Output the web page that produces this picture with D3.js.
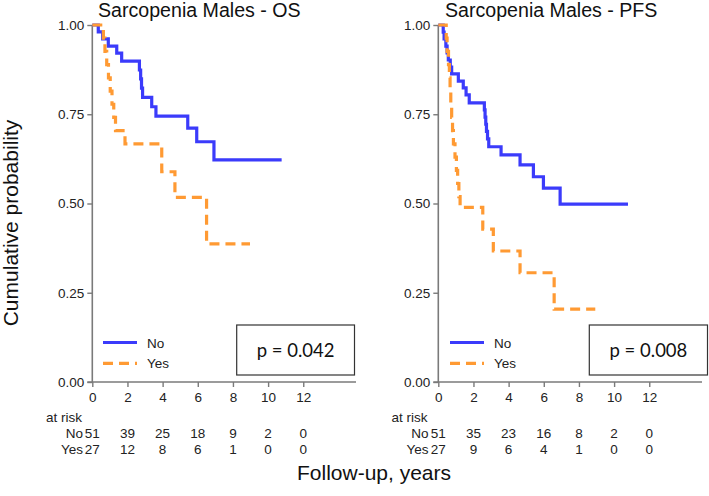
<!DOCTYPE html>
<html>
<head>
<meta charset="utf-8">
<script src="https://cdn.jsdelivr.net/npm/d3@7"></script>
<style>
  html, body { margin: 0; padding: 0; background: #fff; }
  svg { display: block; }
</style>
</head>
<body>
<svg id="chart" width="709" height="496"></svg>
<script>
// ---------------- DATA ----------------
const panelTitles = ["Sarcopenia Males - OS", "Sarcopenia Males - PFS"];
const groupNames = ["No", "Yes"];
const pValues = ["p = 0.042", "p = 0.008"];
const xTicks = [0, 2, 4, 6, 8, 10, 12];
const yTicks = [0, 0.25, 0.5, 0.75, 1];
const riskTimes = [0, 2, 4, 6, 8, 10, 12];

// OS - No
const osNoTime = [0.34, 0.59, 0.91, 1.39, 1.67, 2.68, 2.75, 2.80, 2.86, 3.38, 3.62, 5.43, 5.94, 6.92];
const osNoSurv = [0.981, 0.961, 0.941, 0.921, 0.899, 0.874, 0.849, 0.823, 0.797, 0.771, 0.745, 0.711, 0.673, 0.622];
const osNoEnd = 10.77;
// OS - Yes
const osYesTime = [0.63, 0.72, 0.82, 0.92, 1.02, 1.12, 1.22, 1.32, 1.86, 3.95, 4.70, 6.50];
const osYesSurv = [0.963, 0.926, 0.889, 0.852, 0.815, 0.778, 0.741, 0.704, 0.667, 0.589, 0.517, 0.387];
const osYesEnd = 8.97;
// PFS - No
const pfsNoTime = [0.28, 0.33, 0.43, 0.50, 0.57, 0.68, 0.76, 1.14, 1.42, 1.58, 1.76, 2.62, 2.66, 2.70, 2.74, 2.80, 2.87, 3.57, 4.65, 5.41, 5.98, 6.93];
const pfsNoSurv = [0.980, 0.961, 0.941, 0.922, 0.902, 0.882, 0.863, 0.843, 0.824, 0.804, 0.782, 0.762, 0.742, 0.722, 0.702, 0.681, 0.659, 0.636, 0.608, 0.575, 0.543, 0.498];
const pfsNoEnd = 10.79;
// PFS - Yes
const pfsYesTime = [0.45, 0.50, 0.58, 0.63, 0.67, 0.71, 0.76, 0.81, 0.86, 0.95, 1.03, 1.10, 1.17, 1.24, 2.53, 3.13, 4.65, 6.59];
const pfsYesSurv = [0.963, 0.926, 0.889, 0.852, 0.815, 0.778, 0.741, 0.704, 0.667, 0.630, 0.593, 0.556, 0.519, 0.489, 0.428, 0.367, 0.306, 0.204];
const pfsYesEnd = 8.93;

// At-risk tables
const osRiskNo = [51, 39, 25, 18, 9, 2, 0];
const osRiskYes = [27, 12, 8, 6, 1, 0, 0];
const pfsRiskNo = [51, 35, 23, 16, 8, 2, 0];
const pfsRiskYes = [27, 9, 6, 4, 1, 0, 0];

// ---------------- LAYOUT ----------------
const svg = d3.select("#chart");
const axisColor = "#7a7a7a";
const textColor = "#222";
const colNo = "#3b3bfb";
const colYes = "#ff9a33";
const fontMain = "'Liberation Sans', Arial, Helvetica, sans-serif";
const fontP = "Lato, 'Open Sans', sans-serif";

const yScale = d3.scaleLinear().domain([0, 1]).range([382, 25]);

const panels = [
  { left: 92.3, title: panelTitles[0], titleX: 98,
    curves: [[osNoTime, osNoSurv, osNoEnd], [osYesTime, osYesSurv, osYesEnd]],
    risk: [osRiskNo, osRiskYes], p: pValues[0],
    box: [236.7, 325, 354.5, 375], legendX: 103, atRiskX: 46, labelRight: 83 },
  { left: 438.3, title: panelTitles[1], titleX: 445,
    curves: [[pfsNoTime, pfsNoSurv, pfsNoEnd], [pfsYesTime, pfsYesSurv, pfsYesEnd]],
    risk: [pfsRiskNo, pfsRiskYes], p: pValues[1],
    box: [589.3, 325, 707.5, 375], legendX: 450, atRiskX: 391.5, labelRight: 428.5 }
];

panels.forEach(P => {
  const x = d3.scaleLinear().domain([0, 15]).range([P.left, P.left + 15 * 17.58]);
  const g = svg.append("g");

  // title
  g.append("text").attr("x", P.titleX).attr("y", 17)
    .attr("font-family", fontMain).attr("font-size", 19.6).attr("fill", "#111")
    .text(P.title);

  // y axis
  const yAx = g.append("g").attr("transform", `translate(${P.left},0)`)
    .call(d3.axisLeft(yScale).tickValues(yTicks).tickFormat(d3.format(".2f")).tickSize(5).tickPadding(3));
  // x axis
  const xAx = g.append("g").attr("transform", `translate(0,${yScale(0)})`)
    .call(d3.axisBottom(x).tickValues(xTicks).tickSize(5).tickPadding(5));
  [yAx, xAx].forEach(a => {
    a.select(".domain").attr("stroke", axisColor).attr("stroke-width", 1.6);
    a.selectAll(".tick line").attr("stroke", axisColor).attr("stroke-width", 1.4);
    a.selectAll("text").attr("font-family", fontMain).attr("font-size", 13.5).attr("fill", textColor);
  });
  // remove outer tick ends on domain paths (axisBottom/Left draw tick-shaped ends); redraw simple lines
  yAx.select(".domain").attr("d", `M0,${yScale(1)}V${yScale(0)}`);
  xAx.select(".domain").attr("d", `M${P.left - 5},0H${x(15)}`);

  // curves
  const line = d3.line().x(d => x(d[0])).y(d => yScale(d[1])).curve(d3.curveStepAfter);
  P.curves.forEach((c, i) => {
    const [t, s, end] = c;
    const pts = [[0, 1]].concat(t.map((tt, k) => [tt, s[k]]));
    pts.push([end, s[s.length - 1]]);
    g.append("path").datum(pts).attr("d", line)
      .attr("fill", "none")
      .attr("stroke", i === 0 ? colNo : colYes)
      .attr("stroke-width", 3.2)
      .attr("stroke-dasharray", i === 0 ? null : "10,6")
      .attr("stroke-linejoin", "miter");
  });

  // legend
  groupNames.forEach((nm, i) => {
    const ly = 342.5 + i * 20.8;
    g.append("line").attr("x1", P.legendX).attr("x2", P.legendX + 34)
      .attr("y1", ly).attr("y2", ly)
      .attr("stroke", i === 0 ? colNo : colYes).attr("stroke-width", 3.2)
      .attr("stroke-dasharray", i === 0 ? null : "10,6");
    g.append("text").attr("x", P.legendX + 44).attr("y", ly + 5)
      .attr("font-family", fontMain).attr("font-size", 13.5).attr("fill", textColor)
      .text(nm);
  });

  // p-value box
  const [bx0, by0, bx1, by1] = P.box;
  g.append("rect").attr("x", bx0).attr("y", by0).attr("width", bx1 - bx0).attr("height", by1 - by0)
    .attr("fill", "#fff").attr("stroke", "#333").attr("stroke-width", 1.2);
  g.append("text").attr("x", (bx0 + bx1) / 2).attr("y", (by0 + by1) / 2 + 6.5)
    .attr("text-anchor", "middle")
    .attr("font-family", fontP).attr("font-size", 18.5).attr("fill", "#111")
    .text(P.p);

  // at-risk table
  g.append("text").attr("x", P.atRiskX).attr("y", 421.5)
    .attr("font-family", fontMain).attr("font-size", 13.5).attr("fill", textColor).text("at risk");
  groupNames.forEach((nm, i) => {
    const ry = 437.5 + i * 16.5;
    g.append("text").attr("x", P.labelRight).attr("y", ry).attr("text-anchor", "end")
      .attr("font-family", fontMain).attr("font-size", 13.5).attr("fill", textColor).text(nm);
    g.selectAll(null).data(riskTimes).enter().append("text")
      .attr("x", (d) => x(d)).attr("y", ry).attr("text-anchor", "middle")
      .attr("font-family", fontMain).attr("font-size", 13.5).attr("fill", textColor)
      .text((d, k) => P.risk[i][k]);
  });
});

// shared axis labels
svg.append("text")
  .attr("transform", "translate(18,223) rotate(-90)")
  .attr("text-anchor", "middle")
  .attr("font-family", fontMain).attr("font-size", 21).attr("fill", "#111")
  .text("Cumulative probability");
svg.append("text")
  .attr("x", 374).attr("y", 480).attr("text-anchor", "middle")
  .attr("font-family", fontMain).attr("font-size", 21).attr("fill", "#111")
  .text("Follow-up, years");
</script>
</body>
</html>
